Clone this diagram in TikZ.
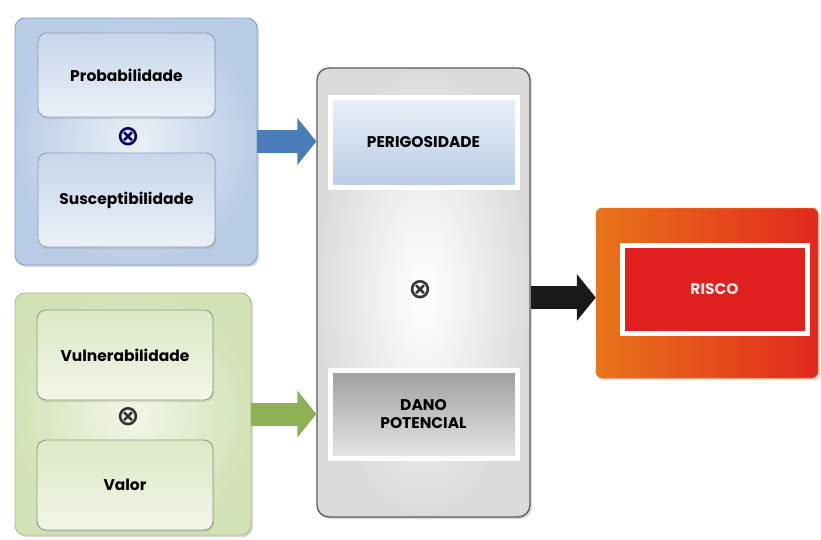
\documentclass[tikz,border=0pt]{standalone}
\usepackage{fontspec}
\setmainfont{Poppins}
\newfontfamily\simbolo{DejaVu Sans}
\usetikzlibrary{arrows.meta,shadows,positioning}

\definecolor{azulborda}{HTML}{7F9FCB}
\definecolor{azulfundo}{HTML}{B9CCE6}
\definecolor{azulclaro}{HTML}{EAF0F8}
\definecolor{azulseta}{HTML}{4A7EBB}
\definecolor{verdeborda}{HTML}{A6BF7E}
\definecolor{verdefundo}{HTML}{D3E2B6}
\definecolor{verdeclaro}{HTML}{F2F6E8}
\definecolor{verdeseta}{HTML}{8DB256}
\definecolor{cinzaborda}{HTML}{5A5A5A}
\definecolor{laranja}{HTML}{E8751A}
\definecolor{vermelho}{HTML}{E0201E}

\begin{document}
\begin{tikzpicture}[x=1pt,y=-1pt,
    grupo/.style={draw=#1, line width=0.9pt, rounded corners=10pt,
      drop shadow={opacity=0.3,shadow xshift=2pt,shadow yshift=-2pt}},
    fator/.style={draw=#1, line width=0.9pt, rounded corners=9pt,
      font=\bfseries\fontsize{15.5}{17.5}\selectfont, align=center,
      drop shadow={opacity=0.2,shadow xshift=1pt,shadow yshift=-2pt}},
    quadro/.style={draw=white, line width=5pt, align=center,
      font=\bfseries\fontsize{15.5}{17.5}\selectfont,
      drop shadow={opacity=0.25,shadow xshift=1pt,shadow yshift=-1pt}},
    vezes/.style={font=\simbolo\bfseries\fontsize{28}{28}\selectfont, text=black!80},
    seta/.style={draw=#1, line width=23pt, -{Triangle[length=19pt,width=46pt]}}
  ]
  \useasboundingbox (0,0) rectangle (821,539);

  % grupo azul
  \node[grupo=azulborda, inner color=azulclaro, outer color=azulfundo,
    minimum width=242pt, minimum height=247pt] (perig-grupo) at (136,141.5) {};
  \node[fator=azulborda!60!black!60, top color=azulfundo!80, bottom color=azulclaro,
    minimum width=177pt, minimum height=84pt] (prob) at (126.5,75) {Probabilidade};
  \node[vezes, text=black!60!blue] (vezes-azul) at (128,137) {⊗};
  \node[fator=azulborda!60!black!60, top color=azulfundo!80, bottom color=azulclaro,
    minimum width=177pt, minimum height=94pt] (susc) at (126.5,200) {Susceptibilidade};

  % grupo verde
  \node[grupo=verdeborda, inner color=verdeclaro, outer color=verdefundo,
    minimum width=236pt, minimum height=242pt] (dano-grupo) at (133,414) {};
  \node[fator=verdeborda!60!black!70, top color=verdefundo!80, bottom color=verdeclaro,
    minimum width=176pt, minimum height=90pt] (vuln) at (125,355) {Vulnerabilidade};
  \node[vezes] (vezes-verde) at (128,417) {⊗};
  \node[fator=verdeborda!60!black!70, top color=verdefundo!80, bottom color=verdeclaro,
    minimum width=176pt, minimum height=90pt] (valor) at (125,485) {Valor};

  % bloco central
  \node[grupo=cinzaborda, line width=1.3pt, rounded corners=12pt,
    inner color=white, outer color=black!14,
    minimum width=213pt, minimum height=449pt] (central) at (423.5,292.5) {};
  \node[quadro, top color=azulclaro, bottom color=azulfundo,
    minimum width=187pt, minimum height=90pt] (perig) at (423.5,142) {PERIGOSIDADE};
  \node[vezes] (vezes-central) at (420,290) {⊗};
  \node[quadro, top color=black!38, bottom color=black!10,
    minimum width=187pt, minimum height=88pt] (dano) at (423.5,414) {DANO\\POTENCIAL};

  % risco
  \node[grupo=laranja, line width=0.5pt, rounded corners=6pt,
    left color=laranja, right color=vermelho!90!laranja,
    minimum width=222pt, minimum height=170pt] (risco-grupo) at (707,293) {};
  \node[quadro, fill=vermelho, text=white!92!red,
    minimum width=185pt, minimum height=88pt] (risco) at (714.5,289) {RISCO};

  % setas
  \draw[seta=azulseta] (perig-grupo.east) -- (perig-grupo.east -| central.west);
  \draw[seta=verdeseta] (dano-grupo.east) -- (dano-grupo.east -| central.west);
  \draw[seta=black!90] ([yshift=-5pt]central.east) -- ([yshift=-5pt]central.east -| risco-grupo.west);
\end{tikzpicture}
\end{document}
